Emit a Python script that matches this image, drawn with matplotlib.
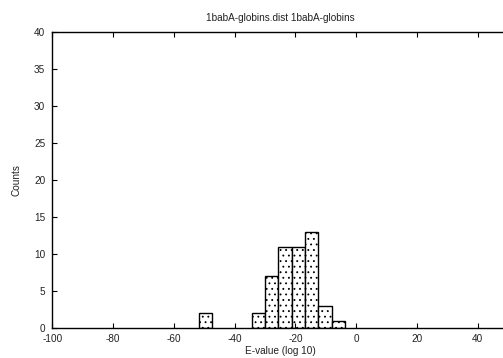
import numpy as np
import matplotlib
matplotlib.use('Agg')
import matplotlib.pyplot as plt

plt.rcParams['font.family'] = ['Liberation Sans', 'DejaVu Sans']
plt.rcParams['axes.unicode_minus'] = False
plt.rcParams['hatch.linewidth'] = 0.6
plt.rcParams['hatch.color'] = '#555555'

# histogram bins (centres, log10 E-value) and counts
bin_centres = [-49.6, -32.15, -27.76, -23.37, -18.98, -14.59, -10.2, -5.81]
counts = [2, 2, 7, 11, 11, 13, 3, 1]
bin_width = 4.39

xticks = [-100, -80, -60, -40, -20, 0, 20, 40]
yticks = [0, 5, 10, 15, 20, 25, 30, 35, 40]

fig = plt.figure(figsize=(5.03, 3.58), dpi=100)
ax = fig.add_axes([0.104, 0.0838, 0.906, 0.8268])

ax.bar(bin_centres, counts, width=bin_width, facecolor='white', edgecolor='black',
       hatch='...', linewidth=1.0, zorder=1)

ax.set_xlim(-100, 50)
ax.set_ylim(0, 40)
ax.set_xticks(xticks)
ax.set_yticks(yticks)
ax.tick_params(direction='in', length=3.5, width=0.8, labelsize=7.2, top=True, right=True,
               labelcolor='#222222')
ax.tick_params(axis='x', pad=4)
ax.tick_params(axis='y', pad=5)
ax.set_axisbelow(False)
for s in ax.spines.values():
    s.set_linewidth(1.0)

ax.set_title('1babA-globins.dist 1babA-globins', fontsize=7.2, pad=8, color='#222222')
ax.set_xlabel('E-value (log 10)', fontsize=7.2, labelpad=2, color='#222222')
ax.set_ylabel('Counts', fontsize=7.2, labelpad=9, color='#222222')

fig.savefig('out.png', dpi=100)
